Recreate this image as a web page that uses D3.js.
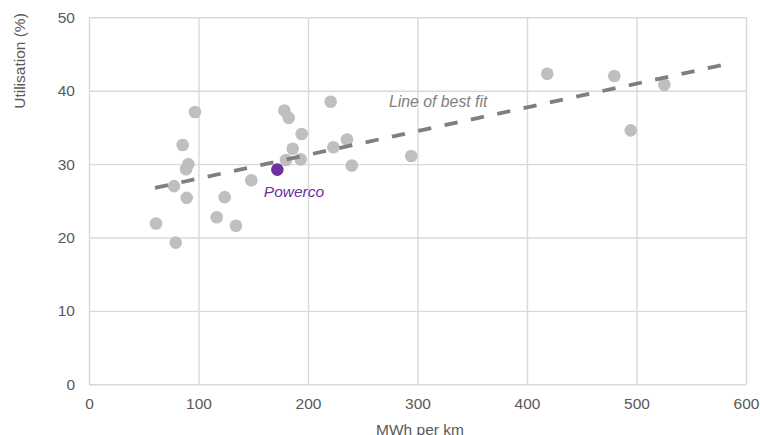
<!DOCTYPE html>
<html>
<head>
<meta charset="utf-8">
<script src="https://cdn.jsdelivr.net/npm/d3@7"></script>
<style>
  html, body { margin: 0; padding: 0; background: #ffffff; }
  svg { display: block; font-family: "Liberation Sans", Arial, sans-serif; }
</style>
</head>
<body>
<svg id="chart" width="760" height="435"></svg>
<script>
// Network density (MWh per km) against utilisation (%) for each distributor
const mwhPerKm = [96.8, 85.6, 90.7, 88.6, 77.6, 89.2, 61.2, 79.2, 123.9, 116.6, 134.2, 148.2,
                  178.4, 182.4, 194.2, 186.0, 179.9, 193.3, 220.7, 235.6, 223.2, 240.0,
                  294.3, 418.5, 479.7, 494.7, 525.4];
const utilisation = [37.1, 32.6, 30.0, 29.3, 27.0, 25.4, 21.9, 19.3, 25.5, 22.75, 21.6, 27.8,
                     37.3, 36.3, 34.1, 32.1, 30.55, 30.65, 38.5, 33.35, 32.3, 29.8,
                     31.1, 42.3, 42.0, 34.6, 40.8];

// Highlighted distributor
const highlightName = "Powerco";
const highlightX = [172.0];
const highlightY = [29.25];

// Line of best fit, given by its two end points
const fitX = [60.3, 577];
const fitY = [26.75, 43.45];

// Axis ticks
const xTicks = [0, 100, 200, 300, 400, 500, 600];
const yTicks = [0, 10, 20, 30, 40, 50];

const svg = d3.select("#chart");
const plot = { left: 89, right: 746, top: 17.3, bottom: 384.3 };

const x = d3.scaleLinear().domain([0, 600]).range([plot.left, plot.right]);
const y = d3.scaleLinear().domain([0, 50]).range([plot.bottom, plot.top]);

const gridColor = "#d9d9d9";
const textColor = "#595959";
const fontSize = "15.5px";

// Horizontal gridlines and y tick labels
const yAxis = svg.append("g")
  .attr("transform", `translate(${plot.left},0)`)
  .call(d3.axisLeft(y).tickValues(yTicks).tickSize(-(plot.right - plot.left)).tickPadding(14).tickFormat(d3.format("d")));
yAxis.select(".domain").remove();
yAxis.selectAll(".tick line").attr("stroke", gridColor).attr("stroke-width", 1.4);
yAxis.selectAll(".tick text").attr("fill", textColor).style("font-size", fontSize)
  .style("font-family", "'Liberation Sans', Arial, sans-serif");

// Vertical gridlines and x tick labels
const xAxis = svg.append("g")
  .attr("transform", `translate(0,${plot.bottom})`)
  .call(d3.axisBottom(x).tickValues(xTicks).tickSize(-(plot.bottom - plot.top)).tickPadding(14).tickFormat(d3.format("d")));
xAxis.select(".domain").remove();
xAxis.selectAll(".tick line").attr("stroke", gridColor).attr("stroke-width", 1.4);
xAxis.selectAll(".tick text").attr("fill", textColor).style("font-size", fontSize)
  .style("font-family", "'Liberation Sans', Arial, sans-serif");

// Distributors
const points = mwhPerKm.map((d, i) => ({ x: d, y: utilisation[i] }));
svg.append("g")
  .selectAll("circle")
  .data(points)
  .join("circle")
  .attr("cx", d => x(d.x))
  .attr("cy", d => y(d.y))
  .attr("r", 6.3)
  .attr("fill", "#bfbfbf");

// Highlighted distributor
const hl = highlightX.map((d, i) => ({ x: d, y: highlightY[i] }));
svg.append("g")
  .selectAll("circle")
  .data(hl)
  .join("circle")
  .attr("cx", d => x(d.x))
  .attr("cy", d => y(d.y))
  .attr("r", 6.3)
  .attr("fill", "#7030a0");

// Line of best fit, dashes spread so both ends finish on a dash
const fitPoints = fitX.map((d, i) => [d, fitY[i]]);
const fitPath = svg.append("path")
  .datum(fitPoints)
  .attr("d", d3.line().x(d => x(d[0])).y(d => y(d[1])))
  .attr("fill", "none")
  .attr("stroke", "#7f7f7f")
  .attr("stroke-width", 3.8);
const fitLen = fitPath.node().getTotalLength();
const dash = 13.3;
const periods = Math.round((fitLen - dash) / 26.9);
const gap = (fitLen - dash) / periods - dash;
fitPath.attr("stroke-dasharray", `${dash} ${gap}`);

svg.append("text")
  .attr("x", x(highlightX[0]) - 13.5)
  .attr("y", y(highlightY[0]) + 27)
  .attr("fill", "#7030a0")
  .style("font-size", fontSize)
  .style("font-style", "italic")
  .text(highlightName);

// Annotation for the fitted line
svg.append("text")
  .attr("x", 389)
  .attr("y", 106.5)
  .attr("fill", "#7f7f7f")
  .style("font-size", "15.8px")
  .style("font-style", "italic")
  .text("Line of best fit");

// Axis titles
svg.append("text")
  .attr("transform", "translate(24.5,61) rotate(-90)")
  .attr("text-anchor", "middle")
  .attr("fill", textColor)
  .style("font-size", fontSize)
  .text("Utilisation (%)");

svg.append("text")
  .attr("x", 420)
  .attr("y", 434.5)
  .attr("text-anchor", "middle")
  .attr("fill", textColor)
  .style("font-size", fontSize)
  .text("MWh per km");
</script>
</body>
</html>
